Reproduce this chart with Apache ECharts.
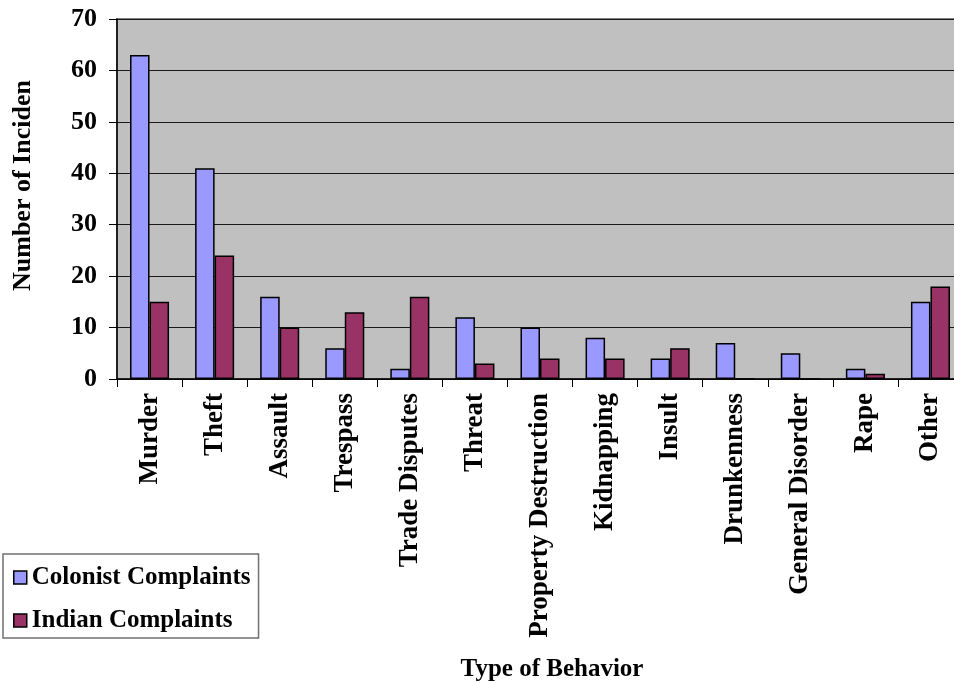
<!DOCTYPE html>
<html>
<head>
<meta charset="utf-8">
<script src="https://cdn.jsdelivr.net/npm/echarts@6/dist/echarts.min.js"></script>
<style>
  html, body { margin: 0; padding: 0; background: #fff; }
  #chart { width: 954px; height: 683px; }
</style>
</head>
<body>
<div id="chart"></div>
<script>
// Complaint counts by type of behavior
const categories = ['Murder', 'Theft', 'Assault', 'Trespass', 'Trade Disputes', 'Threat',
  'Property Destruction', 'Kidnapping', 'Insult', 'Drunkenness', 'General Disorder', 'Rape', 'Other'];
const colonistComplaints = [63, 41, 16, 6, 2, 12, 10, 8, 4, 7, 5, 2, 15];
const indianComplaints = [15, 24, 10, 13, 16, 3, 4, 4, 6, 0, 0, 1, 18];
const seriesNames = ['Colonist Complaints', 'Indian Complaints'];

const FONT = '"Liberation Serif", "Times New Roman", serif';
const chart = echarts.init(document.getElementById('chart'), null, { renderer: 'canvas' });

const barStyle = (color) => ({ color: color, borderColor: '#000', borderWidth: 1.5 });

chart.setOption({
  animation: false,
  backgroundColor: '#fff',
  grid: {
    left: 117, top: 19, right: -9, bottom: 304,
    outerBoundsMode: 'none', containLabel: false,
    show: true, backgroundColor: '#C0C0C0', borderColor: '#808080', borderWidth: 2
  },
  legend: {
    orient: 'vertical', left: 3, top: 554,
    padding: [11, 8, 5, 10], itemGap: 18, itemWidth: 13, itemHeight: 13,
    backgroundColor: '#fff', borderColor: '#707070', borderWidth: 1.5,
    icon: 'rect',
    itemStyle: { borderColor: '#000', borderWidth: 1.5 },
    textStyle: { fontFamily: FONT, fontWeight: 'bold', fontSize: 25, color: '#000' },
    data: seriesNames
  },
  xAxis: {
    type: 'category', data: categories,
    name: 'Type of Behavior', nameLocation: 'middle', nameGap: 278,
    nameTextStyle: { fontFamily: FONT, fontWeight: 'bold', fontSize: 25, color: '#000', padding: [0, 0, 0, 24] },
    axisLine: { lineStyle: { color: '#000', width: 1.5 } },
    axisTick: { show: true, alignWithLabel: false, length: 8, lineStyle: { color: '#000' } },
    axisLabel: { rotate: 90, margin: 14, interval: 0, fontFamily: FONT, fontWeight: 'bold', fontSize: 27, color: '#000' }
  },
  yAxis: {
    type: 'value', min: 0, max: 70, interval: 10,
    axisLine: { show: true, lineStyle: { color: '#000', width: 1.5 } },
    axisTick: { show: true, length: 8, lineStyle: { color: '#000' } },
    axisLabel: { margin: 20, fontFamily: FONT, fontWeight: 'bold', fontSize: 26, color: '#000' },
    splitLine: { show: true, lineStyle: { color: '#1a1a1a', width: 1.2 } }
  },
  graphic: [{
    type: 'text', x: 23, y: 291, rotation: Math.PI / 2,
    style: {
      text: 'Number of Incidents', width: 212, overflow: 'truncate', ellipsis: '',
      font: 'bold 26px ' + FONT, fill: '#000', align: 'left', verticalAlign: 'middle'
    }
  }],
  series: [
    {
      name: seriesNames[0], type: 'bar', data: colonistComplaints,
      barGap: '0%', barCategoryGap: '40%', itemStyle: barStyle('#9999FF')
    },
    {
      name: seriesNames[1], type: 'bar', data: indianComplaints,
      barGap: '0%', barCategoryGap: '40%', itemStyle: barStyle('#993366')
    }
  ]
});
</script>
</body>
</html>
